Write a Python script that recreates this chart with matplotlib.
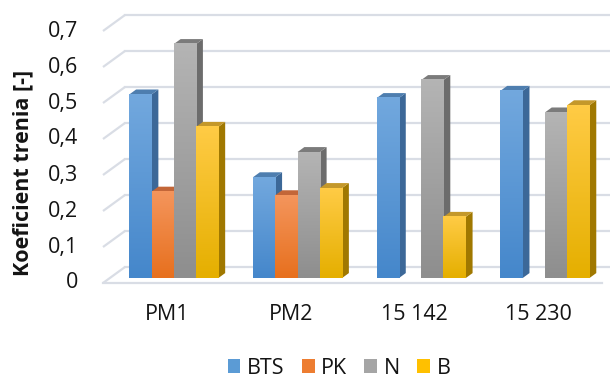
import numpy as np
import matplotlib
matplotlib.use("Agg")
import matplotlib.pyplot as plt
from matplotlib.patches import Polygon, Patch
from matplotlib.colors import LinearSegmentedColormap

categories = ["PM1", "PM2", "15 142", "15 230"]
series = ["BTS", "PK", "N", "B"]
bts = [0.51, 0.28, 0.50, 0.52]
pk = [0.24, 0.23, 0.0, 0.0]
n = [0.65, 0.35, 0.55, 0.46]
b = [0.42, 0.25, 0.17, 0.48]
yticks = [0, 0.1, 0.2, 0.3, 0.4, 0.5, 0.6, 0.7]
ytick_labels = ["0", "0,1", "0,2", "0,3", "0,4", "0,5", "0,6", "0,7"]

# face colours: (front top, front bottom, side, top)
styles = {
    "BTS": ("#72A8DE", "#4587CB", "#3C6898", "#4E7EAF"),
    "PK": ("#F4955C", "#E7701E", "#B0581F", "#C36638"),
    "N": ("#B4B4B4", "#8E8E8E", "#6C6C6C", "#7B7B7B"),
    "B": ("#FFCB45", "#E5AF00", "#A07800", "#C4982A"),
}
legend_colors = ["#5B9BD5", "#ED7D31", "#A5A5A5", "#FFC000"]

plt.rcParams["font.family"] = ["Open Sans", "DejaVu Sans"]

W, H = 610, 378
fig = plt.figure(figsize=(W / 100, H / 100), dpi=100)

# pixel geometry of the value/category scales
px_cat = 123.7          # pixels per category
px_val = 360.0          # pixels per unit of value
cat0_px = 167.0         # x pixel of first category
zero_px = 283.0         # y pixel (from top) of value 0 at the front

xlim = (-0.6, 3.55)
ylim = (-0.05, 0.76)
left = (cat0_px + xlim[0] * px_cat) / W
right = (cat0_px + xlim[1] * px_cat) / W
bottom = 1 - (zero_px - ylim[0] * px_val) / H
top = 1 - (zero_px - ylim[1] * px_val) / H
ax = fig.add_axes([left, bottom, right - left, top - bottom])
ax.set_xlim(*xlim)
ax.set_ylim(*ylim)
ax.axis("off")

# oblique depth projection: full floor depth shifts 22 px right and 16 px up
def depth(d):
    return 22 * d / px_cat, 16 * d / px_val

grid_col = "#D9DDE5"
bx, by = depth(1.0)
x_front_left = (103 - cat0_px) / px_cat
x_front_right = (602 - cat0_px) / px_cat
for v in yticks:
    ax.plot([x_front_left, x_front_left + bx], [v, v + by], color=grid_col, lw=1.6,
            solid_capstyle="butt", zorder=1)
    ax.plot([x_front_left + bx, xlim[1] + 0.1], [v + by, v + by], color=grid_col, lw=1.6,
            zorder=1, clip_on=False)
ax.plot([x_front_left, x_front_right], [0, 0], color=grid_col, lw=1.6, zorder=1)

bar_w = 0.18
d_front, d_back = 0.31, 0.62
fx, fy = depth(d_front)
kx, ky = depth(d_back)
sdx, sdy = kx - fx, ky - fy

values = {"BTS": bts, "PK": pk, "N": n, "B": b}
z = 2
for ci, cat in enumerate(categories):
    for si, name in enumerate(series):
        v = values[name][ci]
        if v <= 0:
            continue
        c_top, c_bot, c_side, c_lid = styles[name]
        x0 = ci + (si - 2) * bar_w + fx
        x1 = x0 + bar_w
        y0 = fy
        y1 = v + fy
        side = Polygon([(x1, y0), (x1, y1), (x1 + sdx, y1 + sdy), (x1 + sdx, y0 + sdy)],
                       closed=True, facecolor=c_side, edgecolor="none", zorder=z)
        ax.add_patch(side)
        lid = Polygon([(x0, y1), (x1, y1), (x1 + sdx, y1 + sdy), (x0 + sdx, y1 + sdy)],
                      closed=True, facecolor=c_lid, edgecolor="none", zorder=z)
        ax.add_patch(lid)
        cmap = LinearSegmentedColormap.from_list(name, [c_bot, c_top])
        grad = np.linspace(0, 1, 64).reshape(-1, 1)
        ax.imshow(grad, cmap=cmap, extent=[x0, x1, y0, y1], origin="lower",
                  aspect="auto", zorder=z + 0.5, interpolation="bilinear")
        z += 1

ax.set_xlim(*xlim)
ax.set_ylim(*ylim)

fs = 15.5
txt_col = "#141414"
for v, lab in zip(yticks, ytick_labels):
    fig.text(78 / W, 1 - (zero_px - v * px_val) / H, lab, ha="right", va="center",
             fontsize=fs, color=txt_col)
for ci, cat in enumerate(categories):
    fig.text((cat0_px + ci * px_cat) / W, 1 - 314 / H, cat, ha="center", va="center",
             fontsize=fs, color=txt_col)

fig.text(23 / W, 1 - 173 / H, "Koeficient trenia [-]", rotation=90, ha="center", va="center",
         fontsize=15.5, fontweight="bold", color=txt_col)

handles = [Patch(facecolor=c, edgecolor="none") for c in legend_colors]
fig.legend(handles, series, loc="center", bbox_to_anchor=(339 / W, 1 - 368 / H), ncol=4,
           frameon=False, fontsize=fs, handlelength=0.6, handleheight=0.6,
           handletextpad=0.3, columnspacing=0.8, labelcolor=txt_col,
           borderpad=0.0)

fig.savefig("out.png", dpi=100)
